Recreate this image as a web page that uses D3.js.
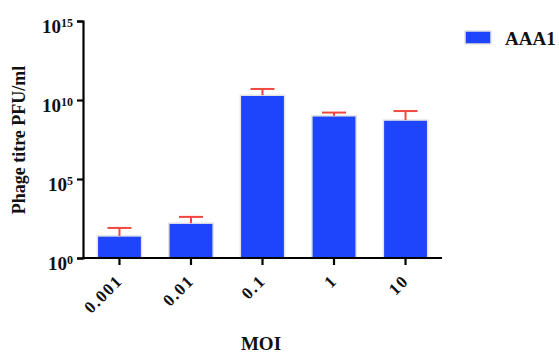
<!DOCTYPE html>
<html>
<head>
<meta charset="utf-8">
<script src="https://cdn.jsdelivr.net/npm/d3@7"></script>
<style>
  body { margin: 0; background: #fff; }
</style>
</head>
<body>
<svg id="chart" width="559" height="354"></svg>
<script>
// values (PFU/ml)
var categories = ["0.001", "0.01", "0.1", "1", "10"]
var titre = [25, 160, 2.0e10, 1.0e9, 5.4e8]
var titreUpper = [80, 400, 5.0e10, 1.6e9, 2.0e9]   // top of error bar
var yTicks = [0, 5, 10, 15]  // exponents
var seriesName = "AAA1"

var BAR_COLOR = "#1f45fc"
var ERR_COLOR = "#f0483c"
var FONT = "'Times New Roman', 'Liberation Serif', 'DejaVu Serif', serif"

var svg = d3.select("#chart")
var m = {left: 83, top: 21, right: 442, bottom: 258}

var x = d3.scaleBand().domain(categories).range([m.left, m.right]).paddingInner(0.38).paddingOuter(0.2)
var y = d3.scaleLog().domain([1, 1e15]).range([m.bottom, m.top])

// bars
var g = svg.append("g")
g.selectAll("rect.bar").data(categories).enter().append("rect")
    .attr("class", "bar")
    .attr("x", d => x(d))
    .attr("width", x.bandwidth())
    .attr("y", (d, i) => y(titre[i]))
    .attr("height", (d, i) => y(1) - y(titre[i]))
    .attr("fill", BAR_COLOR)
    .attr("stroke", "#e4e4e4")
    .attr("stroke-width", 1.5)

// error bars (upper only)
var eb = g.selectAll("g.err").data(categories).enter().append("g").attr("class", "err")
eb.append("line")
    .attr("x1", d => x(d) + x.bandwidth() / 2)
    .attr("x2", d => x(d) + x.bandwidth() / 2)
    .attr("y1", (d, i) => y(titre[i]))
    .attr("y2", (d, i) => y(titreUpper[i]))
    .attr("stroke", ERR_COLOR).attr("stroke-width", 2)
eb.append("line")
    .attr("x1", d => x(d) + x.bandwidth() / 2 - 12)
    .attr("x2", d => x(d) + x.bandwidth() / 2 + 12)
    .attr("y1", (d, i) => y(titreUpper[i]))
    .attr("y2", (d, i) => y(titreUpper[i]))
    .attr("stroke", ERR_COLOR).attr("stroke-width", 2)

// y axis
var yAxis = svg.append("g").attr("transform", "translate(" + m.left + ",0)")
    .call(d3.axisLeft(y).tickValues(yTicks.map(e => Math.pow(10, e))).tickSize(6).tickFormat(""))
yAxis.attr("font-family", FONT)
yAxis.select(".domain").attr("stroke", "#000").attr("stroke-width", 2.2)
yAxis.selectAll(".tick line").attr("stroke", "#000").attr("stroke-width", 2.2)
yAxis.selectAll(".tick").each(function(d, i) {
    var t = d3.select(this).append("text")
        .attr("x", -10).attr("y", 11)
        .attr("text-anchor", "end")
        .attr("fill", "#111")
        .attr("font-family", FONT).attr("font-weight", "bold")
        .attr("font-size", 19)
    t.append("tspan").text("10")
    t.append("tspan").attr("dy", "-0.45em").attr("font-size", 12).text(yTicks[i])
})

// x axis
var xAxis = svg.append("g").attr("transform", "translate(0," + m.bottom + ")")
    .call(d3.axisBottom(x).tickSize(7).tickSizeOuter(0))
xAxis.attr("font-family", FONT).attr("font-size", 17).attr("font-weight", "bold")
xAxis.select(".domain").attr("stroke", "#000").attr("stroke-width", 2.2)
    .attr("d", "M" + (m.left - 1) + ",0H" + m.right)
xAxis.selectAll(".tick line").attr("stroke", "#000").attr("stroke-width", 2.2)
xAxis.selectAll(".tick text")
    .attr("fill", "#111")
    .attr("letter-spacing", 1.5)
    .attr("text-anchor", "end")
    .attr("dy", null).attr("y", 0)
    .attr("transform", "translate(4,24) rotate(-45)")

// axis titles
svg.append("text")
    .attr("transform", "translate(25," + 140 + ") rotate(-90)")
    .attr("text-anchor", "middle")
    .attr("font-family", FONT).attr("font-weight", "bold").attr("font-size", 18)
    .attr("fill", "#111")
    .text("Phage titre PFU/ml")
svg.append("text")
    .attr("x", 261).attr("y", 350)
    .attr("text-anchor", "middle")
    .attr("font-family", FONT).attr("font-weight", "bold").attr("font-size", 19)
    .attr("fill", "#111")
    .text("MOI")

// legend
var lg = svg.append("g").attr("transform", "translate(465,31)")
lg.append("rect").attr("width", 26).attr("height", 13)
    .attr("fill", BAR_COLOR).attr("stroke", "#e4e4e4").attr("stroke-width", 1.5)
lg.append("text").attr("x", 40).attr("y", 14)
    .attr("font-family", FONT).attr("font-weight", "bold").attr("font-size", 19)
    .attr("fill", "#111")
    .text(seriesName)
</script>
</body>
</html>
